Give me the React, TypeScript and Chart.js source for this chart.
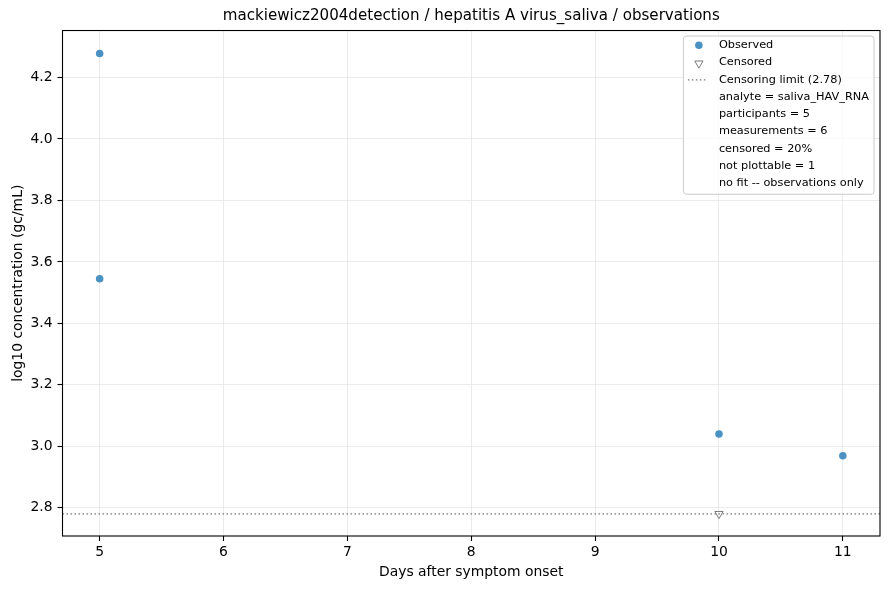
import React, { useEffect, useRef } from 'react';
import { Chart, registerables } from 'chart.js';

Chart.register(...registerables);

const TITLE = 'mackiewicz2004detection / hepatitis A virus_saliva / observations';
const X_LABEL = 'Days after symptom onset';
const Y_LABEL = 'log10 concentration (gc/mL)';

const observedDays = [5, 5, 10, 11];
const observedValues = [4.278, 3.545, 3.04, 2.969];
const censoredDays = [10];
const censoredValues = [2.78];
const censorLimit = 2.78;

const xTicks = [5, 6, 7, 8, 9, 10, 11];
const yTicks = [2.8, 3.0, 3.2, 3.4, 3.6, 3.8, 4.0, 4.2];
const xRange = [4.7, 11.3];
const yRange = [2.708, 4.353];

const legendLines = [
  'Observed',
  'Censored',
  'Censoring limit (2.78)',
  'analyte = saliva_HAV_RNA',
  'participants = 5',
  'measurements = 6',
  'censored = 20%',
  'not plottable = 1',
  'no fit -- observations only',
];

const FONT = '"DejaVu Sans", sans-serif';
const BLUE = 'rgba(31,119,180,0.8)';
const GRAY = '#7a7a7a';

function drawDownTriangle(ctx: CanvasRenderingContext2D, x: number, y: number, r: number) {
  ctx.beginPath();
  ctx.moveTo(x, y + r);
  ctx.lineTo(x - r * 0.866, y - r * 0.5);
  ctx.lineTo(x + r * 0.866, y - r * 0.5);
  ctx.closePath();
}

const framePlugin = {
  id: 'frameAndLegend',
  afterDraw(chart: any) {
    const { ctx, chartArea } = chart;
    ctx.save();
    // spines
    ctx.strokeStyle = '#000';
    ctx.lineWidth = 1.1;
    ctx.strokeRect(chartArea.left, chartArea.top, chartArea.right - chartArea.left, chartArea.bottom - chartArea.top);

    // legend
    ctx.font = `11.3px ${FONT}`;
    const rowH = 17.25;
    const textW = Math.max(...legendLines.map((t) => ctx.measureText(t).width));
    const padL = 35.5;
    const padR = 5;
    const w = padL + textW + padR;
    const h = rowH * legendLines.length + 3;
    const right = chartArea.right - 6;
    const top = chartArea.top + 5.5;
    const left = right - w;
    const rad = 3;
    ctx.beginPath();
    ctx.moveTo(left + rad, top);
    ctx.lineTo(left + w - rad, top);
    ctx.quadraticCurveTo(left + w, top, left + w, top + rad);
    ctx.lineTo(left + w, top + h - rad);
    ctx.quadraticCurveTo(left + w, top + h, left + w - rad, top + h);
    ctx.lineTo(left + rad, top + h);
    ctx.quadraticCurveTo(left, top + h, left, top + h - rad);
    ctx.lineTo(left, top + rad);
    ctx.quadraticCurveTo(left, top, left + rad, top);
    ctx.closePath();
    ctx.fillStyle = 'rgba(255,255,255,0.8)';
    ctx.fill();
    ctx.strokeStyle = '#cccccc';
    ctx.lineWidth = 1;
    ctx.stroke();

    const mx = left + 15.5;
    legendLines.forEach((t, i) => {
      const y = top + 9.3 + i * rowH;
      if (i === 0) {
        ctx.beginPath();
        ctx.arc(mx, y, 3.8, 0, Math.PI * 2);
        ctx.fillStyle = BLUE;
        ctx.fill();
      } else if (i === 1) {
        drawDownTriangle(ctx, mx, y + 0.8, 4.8);
        ctx.strokeStyle = GRAY;
        ctx.lineWidth = 1;
        ctx.stroke();
      } else if (i === 2) {
        ctx.beginPath();
        ctx.setLineDash([1.5, 2.5]);
        ctx.moveTo(mx - 11, y);
        ctx.lineTo(mx + 9, y);
        ctx.strokeStyle = GRAY;
        ctx.lineWidth = 1.3;
        ctx.stroke();
        ctx.setLineDash([]);
      }
      ctx.fillStyle = '#000';
      ctx.textAlign = 'left';
      ctx.textBaseline = 'middle';
      ctx.fillText(t, left + padL, y);
    });
    ctx.restore();
  },
};

export default function App() {
  const ref = useRef<HTMLCanvasElement | null>(null);

  useEffect(() => {
    if (!ref.current) return;
    Chart.defaults.font.family = FONT;
    Chart.defaults.color = '#000';
    const chart = new Chart(ref.current, {
      type: 'scatter',
      data: {
        datasets: [
          {
            label: 'Censoring limit',
            type: 'line',
            data: [
              { x: xRange[0], y: censorLimit },
              { x: xRange[1], y: censorLimit },
            ],
            borderColor: GRAY,
            borderWidth: 1.3,
            borderDash: [1.5, 2.5],
            pointRadius: 0,
            fill: false,
            order: 3,
          } as any,
          {
            label: 'Observed',
            data: observedDays.map((d, i) => ({ x: d, y: observedValues[i] })),
            backgroundColor: BLUE,
            borderWidth: 0,
            pointRadius: 3.8,
            pointHoverRadius: 3.8,
            order: 1,
          },
          {
            label: 'Censored',
            data: censoredDays.map((d, i) => ({ x: d, y: censoredValues[i] })),
            pointStyle: 'triangle',
            rotation: 180,
            backgroundColor: 'rgba(0,0,0,0)',
            borderColor: GRAY,
            borderWidth: 1,
            pointRadius: 4.8,
            order: 2,
          } as any,
        ],
      },
      options: {
        animation: false,
        responsive: false,
        events: [],
        layout: { padding: { left: 0, right: 10, top: 0, bottom: 0 } },
        plugins: {
          legend: { display: false },
          tooltip: { enabled: false },
          title: {
            display: true,
            text: TITLE,
            fullSize: false,
            color: '#000',
            font: { family: FONT, size: 15.1, weight: 'normal', lineHeight: 1.2 },
            padding: { top: 7, bottom: 5.4 },
          },
        },
        scales: {
          x: {
            type: 'linear',
            min: xRange[0],
            max: xRange[1],
            afterBuildTicks: (s: any) => {
              s.ticks = xTicks.map((v) => ({ value: v }));
            },
            afterFit: (s: any) => {
              s.height = 54;
            },
            border: { display: false },
            grid: {
              color: '#e6e6e6',
              lineWidth: 0.8,
              tickColor: '#000',
              tickWidth: 1.1,
              tickLength: 5,
            },
            ticks: {
              font: { family: FONT, size: 13.9 },
              color: '#000',
              padding: 3,
              maxRotation: 0,
              callback: (v: any) => String(v),
            },
            title: {
              display: true,
              text: X_LABEL,
              color: '#000',
              font: { family: FONT, size: 13.9 },
              padding: { top: 0, bottom: 9.5 },
            },
          },
          y: {
            type: 'linear',
            min: yRange[0],
            max: yRange[1],
            afterBuildTicks: (s: any) => {
              s.ticks = yTicks.map((v) => ({ value: v }));
            },
            afterFit: (s: any) => {
              s.width = 62.5;
            },
            border: { display: false },
            grid: {
              color: '#e6e6e6',
              lineWidth: 0.8,
              tickColor: '#000',
              tickWidth: 1.1,
              tickLength: 5,
            },
            ticks: {
              font: { family: FONT, size: 13.9 },
              color: '#000',
              padding: 5,
              callback: (v: any) => Number(v).toFixed(1),
            },
            title: {
              display: true,
              text: Y_LABEL,
              color: '#000',
              font: { family: FONT, size: 13.9 },
              padding: { top: 10, bottom: 0 },
            },
          },
        },
      },
      plugins: [framePlugin],
    });
    return () => chart.destroy();
  }, []);

  return (
    <div style={{ position: 'fixed', left: 0, top: 0, width: 890, height: 590, background: '#fff' }}>
      <canvas ref={ref} width={890} height={590} />
    </div>
  );
}
